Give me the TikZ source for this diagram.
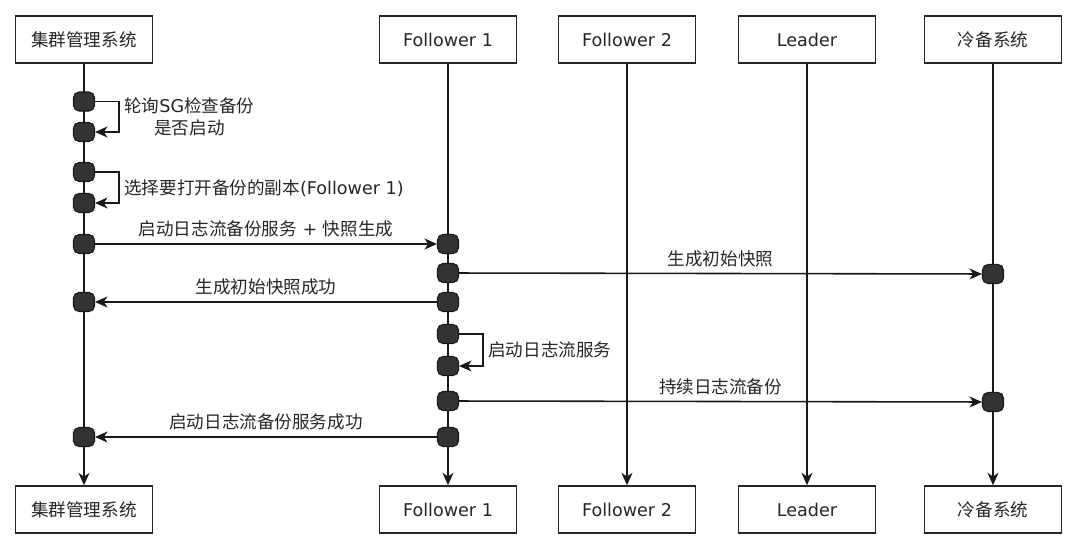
\documentclass[tikz,border=0pt]{standalone}
\usepackage{fontspec}
\setmainfont{DejaVu Sans}
\newfontfamily\cjk{Noto Sans CJK SC}
\usetikzlibrary{arrows.meta}
\begin{document}
\begin{tikzpicture}[x=0.02cm,y=-0.02cm,
  font=\fontsize{10}{12.5}\selectfont,
  actor/.style={draw=black!85, line width=0.8pt, fill=white, minimum width=2.74cm, minimum height=0.94cm, inner sep=0pt, text=black!85},
  act/.style={draw=black!90, fill=black!80, rounded corners=1.1mm, minimum width=0.42cm, minimum height=0.38cm, inner sep=0pt, line width=0.6pt},
  msg/.style={line width=0.9pt, draw=black!90, -{Stealth[length=2.5mm,width=2.2mm,inset=0.75mm]}},
  lbl/.style={text=black!85, inner sep=0pt}
]
\useasboundingbox (0,0) rectangle (1080,548);
% actors top
\node[actor] (t1) at (84,39.5) {{\cjk 集群管理系统}};
\node[actor] (t2) at (448,39.5) {Follower 1};
\node[actor] (t3) at (627,39.5) {Follower 2};
\node[actor] (t4) at (807,39.5) {Leader};
\node[actor] (t5) at (993,39.5) {{\cjk 冷备系统}};
% actors bottom
\node[actor] (b1) at (84,509.5) {{\cjk 集群管理系统}};
\node[actor] (b2) at (448,509.5) {Follower 1};
\node[actor] (b3) at (627,509.5) {Follower 2};
\node[actor] (b4) at (807,509.5) {Leader};
\node[actor] (b5) at (993,509.5) {{\cjk 冷备系统}};
% lifelines
\draw[msg] (t1) -- (b1);
\draw[msg] (t2) -- (b2);
\draw[msg] (t3) -- (b3);
\draw[msg] (t4) -- (b4);
\draw[msg] (t5) -- (b5);
% activations
\node[act] (a1) at (84,101.5) {};
\node[act] (a2) at (84,132) {};
\node[act] (a3) at (84,172) {};
\node[act] (a4) at (84,203) {};
\node[act] (a5) at (84,244) {};
\node[act] (a6) at (84,302) {};
\node[act] (a7) at (84,437) {};
\node[act] (f1) at (448,244) {};
\node[act] (f2) at (448,273) {};
\node[act] (f3) at (448,302) {};
\node[act] (f4) at (448,334) {};
\node[act] (f5) at (448,366) {};
\node[act] (f6) at (448,401) {};
\node[act] (f7) at (448,437) {};
\node[act] (c1) at (993,274) {};
\node[act] (c2) at (993,402) {};
% self loops
\draw[msg] (a1.east) -- ++(24,0) |- (a2.east);
\node[lbl, anchor=west, align=center] (l1) at (124,116.5) {{\cjk 轮询}SG{\cjk 检查备份}\\{\cjk 是否启动}};
\draw[msg] (a3.east) -- ++(24,0) |- (a4.east);
\node[lbl, anchor=west] (l2) at (124,188) {{\cjk 选择要打开备份的副本}(Follower 1)};
\draw[msg] (f4.east) -- ++(24,0) |- (f5.east);
\node[lbl, anchor=west] (l3) at (488,350) {{\cjk 启动日志流服务}};
% messages
\draw[msg] (a5) -- node[lbl, above=0.12cm] {{\cjk 启动日志流备份服务} + {\cjk 快照生成}} (f1);
\draw[msg] (f2) -- node[lbl, above=0.12cm] {{\cjk 生成初始快照}} (c1);
\draw[msg] (f3) -- node[lbl, above=0.12cm] {{\cjk 生成初始快照成功}} (a6);
\draw[msg] (f6) -- node[lbl, above=0.12cm] {{\cjk 持续日志流备份}} (c2);
\draw[msg] (f7) -- node[lbl, above=0.12cm] {{\cjk 启动日志流备份服务成功}} (a7);
\end{tikzpicture}
\end{document}
